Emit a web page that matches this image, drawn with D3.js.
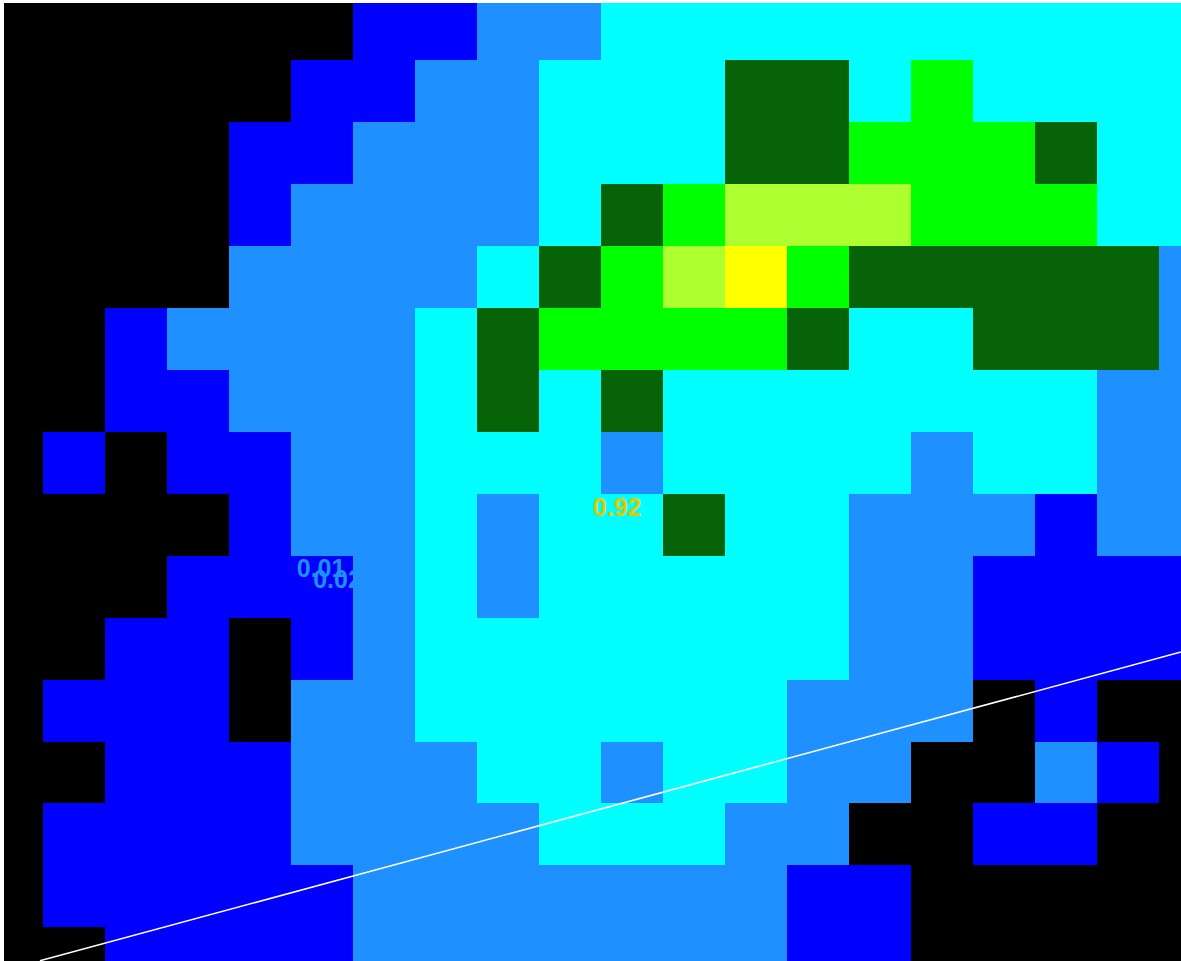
<!DOCTYPE html>
<html><head><meta charset="utf-8">
<style>html,body{margin:0;padding:0;background:#fff;overflow:hidden}svg{display:block}</style>
<script src="https://cdn.jsdelivr.net/npm/d3@7"></script>
</head><body>
<script>
// one string per row; each character is the level of a cell
const gridRows = [
"00000011223333333333",
"00000112233344353333",
"00001122233344555433",
"00001222234566655533",
"00002222345675444442",
"00122223455554334442",
"00112223434333333322",
"01011223332333323322",
"00001223233433222122",
"00011123233333221111",
"00110123333333221111",
"01110223333332220100",
"00111222332332200210",
"01111222233322001100",
"01111122222221100000",
"00111122222221100000"
];
const levelColors = ["#000000","#0000ff","#1e90ff","#00ffff","#076307","#00ff00","#adff2f","#ffff00"];
const labelTexts = ["0.92","0.01","0.02"];
const labelCols = [9.865,5.09,5.355];
const labelRows = [8.36,9.34,9.52];
const labelColors = ["#e6c800","#1e90ff","#1e90ff"];
const lineCols = [0.948,19.35];
const lineRows = [15.54,10.555];

const W=1181,H=961;
const x=d3.scaleLinear().domain([0,20]).range([-18.8,1221.2]);
const y=d3.scaleLinear().domain([0,16]).range([-1.63,989.25]);
const color=d3.scaleOrdinal().domain(d3.range(levelColors.length)).range(levelColors);
const svg=d3.select("body").append("svg").attr("width",W).attr("height",H);
svg.append("defs").append("clipPath").attr("id","plot").append("rect")
  .attr("x",4).attr("y",3).attr("width",W-4).attr("height",H-3);
const g=svg.append("g").attr("clip-path","url(#plot)");
const cells=gridRows.flatMap((s,r)=>[...s].map((c,i)=>({r,i,v:+c})));
g.selectAll("rect.c").data(cells).join("rect").attr("class","c")
  .attr("x",d=>Math.round(x(d.i))).attr("y",d=>Math.round(y(d.r)))
  .attr("width",d=>Math.round(x(d.i+1))-Math.round(x(d.i)))
  .attr("height",d=>Math.round(y(d.r+1))-Math.round(y(d.r)))
  .attr("fill",d=>color(d.v)).attr("shape-rendering","crispEdges");
g.append("path").datum(d3.zip(lineCols,lineRows))
  .attr("d",d3.line().x(d=>x(d[0])).y(d=>y(d[1])))
  .attr("stroke","#fff").attr("stroke-width",1.5).attr("fill","none");
g.selectAll("text.l").data(labelTexts).join("text").attr("class","l")
  .attr("x",(d,i)=>x(labelCols[i])).attr("y",(d,i)=>y(labelRows[i]))
  .attr("fill",(d,i)=>labelColors[i])
  .attr("font-family","'Liberation Sans',sans-serif").attr("font-weight","bold")
  .attr("font-size",25).text(d=>d);
</script>
</body></html>
